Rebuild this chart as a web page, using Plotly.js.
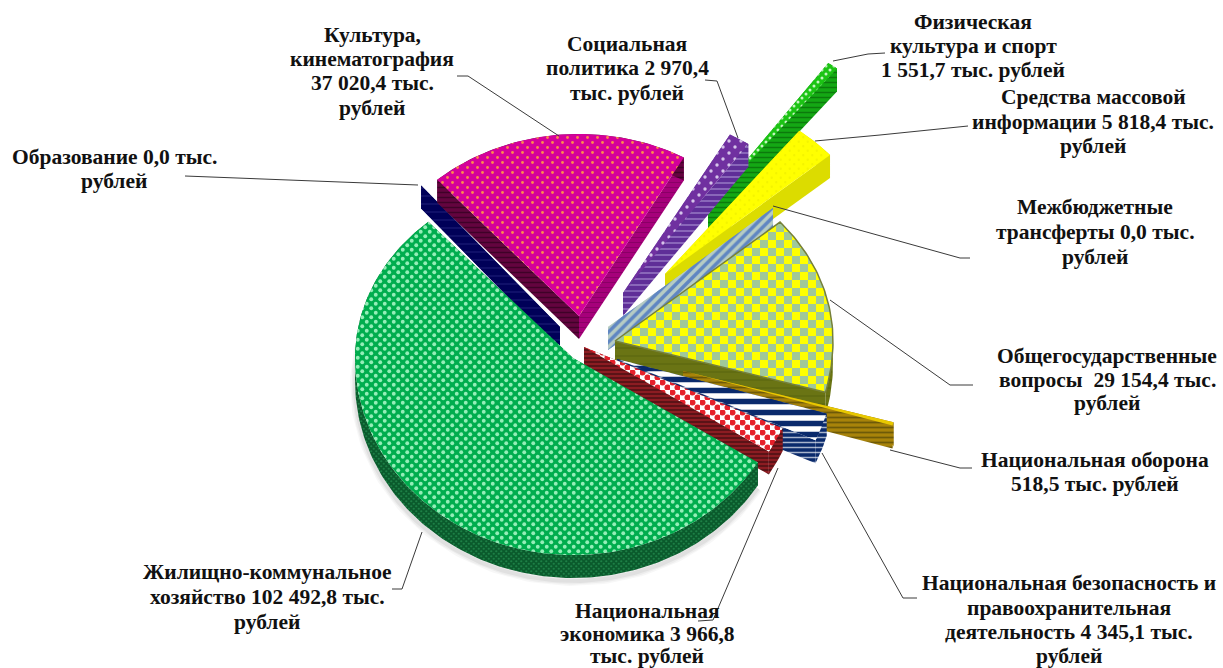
<!DOCTYPE html>
<html><head><meta charset="utf-8">
<script src="https://cdn.plot.ly/plotly-3.0.1.min.js"></script>
<style>html,body{margin:0;padding:0;background:#fff;overflow:hidden}#chart{width:1223px;height:668px}</style>
</head><body><div id="chart"></div>
<script>
// ---- data, clockwise from the start of the largest slice
var categories = ['Жилищно-коммунальное хозяйство','Образование','Культура, кинематография','Социальная политика','Физическая культура и спорт','Средства массовой информации','Межбюджетные трансферты','Общегосударственные вопросы','Национальная оборона','Национальная безопасность и правоохранительная деятельность','Национальная экономика'];
var values = [102492.8,0,37020.4,2970.4,1551.7,5818.4,0,29154.4,518.5,4345.1,3966.8];
var labelLines = [
 ['Жилищно-коммунальное','хозяйство 102 492,8 тыс.','рублей'],
 ['Образование 0,0 тыс.','рублей'],
 ['Культура,','кинематография','37 020,4 тыс.','рублей'],
 ['Социальная','политика 2 970,4','тыс. рублей'],
 ['Физическая','культура и спорт','1 551,7 тыс. рублей'],
 ['Средства массовой','информации 5 818,4 тыс.','рублей'],
 ['Межбюджетные','трансферты 0,0 тыс.','рублей'],
 ['Общегосударственные','вопросы  29 154,4 тыс.','рублей'],
 ['Национальная оборона','518,5 тыс. рублей'],
 ['Национальная безопасность и','правоохранительная','деятельность 4 345,1 тыс.','рублей'],
 ['Национальная','экономика 3 966,8','тыс. рублей']];
// ---- layout of the exploded 3-D pie (pixel-like axis units)
var startAngle = 122, rx = 218, ryBack = 182, ryFront = 197, depth = 23;
var apexX = [573,560,579,623,708,665,608,615,683,617,584];
var apexY = [358,327,316,293,206,274,327,341,371,359,347];
var scaleX = [1,0.96,0.98,1,0.96,1,1,1,1,1,1];
var scaleY = [1,1.04,1,1,0.96,1,1,1,1,1,1];
var drawOrder = [1,2,4,3,5,6,7,8,9,10,0];
var labelX = [267,114,372,627,973,1093,1095,1107,1095,1069,647];
var labelY = [[572,597,622],[157,181],[35,59,83,108],[44,68,93],[22,46,70],[97,122,146],[207,232,257],[356,380,403],[460,484],[583,608,632,656],[611,634,656]];
var leaderX = [[422,402,392],[185,418],[457,468,559],[705,717,738],[833,868,885],[815,880,968],[773,960,970],[830,950,973],[890,960,972],[822,903,917],[778,713,698]];
var leaderY = [[532,589,589],[176,185],[76,76,136],[80,81,138],[61,54,53],[141,135,126],[206,258,258],[300,385,385],[450,468,468],[453,598,598],[468,620,621]];
// ---- styles
var topStyle = [
 {bg:'#00ad4e',fg:'#94eeb8',shape:'.',size:9,sol:0.28},
 null,
 {bg:'#d4009a',fg:'#ff8a4a',shape:'.',size:10,sol:0.12},
 {bg:'#7030a0',fg:'#d5c4ea',shape:'.',size:12,sol:0.12},
 {bg:'#1cc414',fg:'#c4f5c0',shape:'.',size:8,sol:0.22},
 {bg:'#ffff00',fg:'#f4f400',shape:'.',size:9,sol:0.1},
 null,
 {bg:'#a0c89a',fg:'#ffff00',shape:'+',size:16,sol:0.5,line:'#76803a'},
 {bg:'#e8c800',fg:'#e8c800',shape:'',size:8,sol:0.3},
 {bg:'#ffffff',fg:'#0a2a6c',shape:'-',size:11,sol:0.5},
 {bg:'#ffffff',fg:'#e5202a',shape:'.',size:10,sol:0.55}];
var wallStyle = [
 {bg:'#0a5a2c',fg:'#1d8046',shape:'.',size:5,sol:0.3},
 {bg:'#000058',fg:'#20207a',shape:'-',size:8,sol:0.12},
 {bg:'#64043f',fg:'#3f0228',shape:'-',size:5,sol:0.3},
 {bg:'#5f2e98',fg:'#a68bd0',shape:'-',size:6,sol:0.2},
 {bg:'#14a814',fg:'#0c7a0c',shape:'-',size:5,sol:0.3},
 {bg:'#dcdc00',fg:'#c8c800',shape:'',size:7,sol:0.2},
 {bg:'#b6ccc4',fg:'#5f86c2',shape:'/',size:7,sol:0.5},
 {bg:'#6a7414',fg:'#5f6a10',shape:'-',size:8,sol:0.2},
 {bg:'#a8830a',fg:'#6e5a08',shape:'-',size:5,sol:0.35},
 {bg:'#0a2a6c',fg:'#a8b4cc',shape:'-',size:5,sol:0.3},
 {bg:'#8c1c22',fg:'#4e1014',shape:'-',size:4,sol:0.4}];
var endWallColor = {2:'#a6007a'};

var total = values.reduce(function(a,b){return a+b;},0);
var startA = [], endA = [], acc = startAngle;
values.forEach(function(v){ startA.push(acc); acc += v/total*360; endA.push(acc); });

function pt(i,deg){
  var a = deg*Math.PI/180, c = Math.cos(a);
  return [apexX[i]+scaleX[i]*rx*Math.sin(a), apexY[i]-scaleY[i]*(c>0?ryBack:ryFront)*c];
}
function arc(i,a0,a1){
  var out=[], n=Math.max(1,Math.ceil(Math.abs(a1-a0)));
  for(var k=0;k<=n;k++) out.push(pt(i,a0+(a1-a0)*k/n));
  return out;
}
function pattern(s){ return {shape:s.shape,bgcolor:s.bg,fgcolor:s.fg,fgopacity:1,size:s.size,solidity:s.sol}; }
function poly(points,s,name,lineColor){
  var xs=points.map(function(p){return p[0];}), ys=points.map(function(p){return p[1];});
  xs.push(xs[0]); ys.push(ys[0]);
  return {type:'scatter',mode:'lines',x:xs,y:ys,fill:'toself',fillcolor:s.bg,fillpattern:pattern(s),
    line:{width:lineColor?1.5:0,color:lineColor||s.bg},showlegend:false,name:name,hoverinfo:name?'name':'skip',hoveron:'fills'};
}
function down(points){ return points.map(function(p){return [p[0],p[1]+depth];}); }
function wallBetween(line,s){ return poly(line.concat(down(line).reverse()),s,''); }

var traces=[];
// soft ground shadow beneath the front rim of the largest slice
var rim = down(arc(0,startAngle,300));
[[10,0.03],[7,0.04],[4,0.05]].forEach(function(o){
  traces.push({type:'scatter',mode:'lines',x:rim.map(function(p){return p[0];}),y:rim.map(function(p){return p[1]+3;}),
    line:{width:o[0],color:'rgba(0,0,0,'+o[1]+')'},showlegend:false,hoverinfo:'skip'});
});
drawOrder.forEach(function(i){
  var apex=[apexX[i],apexY[i]], w=wallStyle[i];
  var sp=pt(i,startA[i]), ep=pt(i,endA[i]);
  traces.push(wallBetween([apex,sp],w));
  var ew = endWallColor[i] ? {bg:endWallColor[i],fg:'#8a0066',shape:'-',size:5,sol:0.2} : w;
  traces.push(wallBetween([apex,ep],ew));
  if(endA[i]>startA[i]) traces.push(wallBetween(arc(i,startA[i],endA[i]),w));
  if(topStyle[i] && values[i]>0){
    traces.push(poly([apex].concat(arc(i,startA[i],endA[i])),topStyle[i],categories[i],topStyle[i].line));
  }
});

var shapes = leaderX.map(function(xs,i){
  var d = xs.map(function(x,k){return (k?'L':'M')+x+' '+leaderY[i][k];}).join(' ');
  return {type:'path',path:d,xref:'x',yref:'y',line:{color:'#3a3a3a',width:1}};
});
var annotations = [];
labelLines.forEach(function(lines,i){
  lines.forEach(function(t,k){
    annotations.push({text:t,x:labelX[i],y:labelY[i][k],xref:'x',yref:'y',xanchor:'center',yanchor:'middle',align:'center',showarrow:false,
      font:{family:'"Liberation Serif",serif',size:21.5,color:'#111111',weight:700}});
  });
});
var layout = {width:1223,height:668,margin:{l:0,r:0,t:0,b:0},paper_bgcolor:'#fff',plot_bgcolor:'#fff',showlegend:false,
  xaxis:{range:[0,1223],visible:false,fixedrange:true},yaxis:{range:[668,0],visible:false,fixedrange:true},
  shapes:shapes,annotations:annotations};
Plotly.newPlot('chart',traces,layout,{displayModeBar:false}).then(function(){
  // refine two fill textures Plotly has no preset for: a checkerboard and staggered dots
  var NS='http://www.w3.org/2000/svg';
  document.querySelectorAll('pattern').forEach(function(p){
    var w=parseFloat(p.getAttribute('width'));
    if(w===16){
      p.querySelectorAll('path').forEach(function(r){r.remove();});
      [[0,0],[8,8]].forEach(function(o){
        var r=document.createElementNS(NS,'rect');
        r.setAttribute('x',o[0]);r.setAttribute('y',o[1]);r.setAttribute('width',8);r.setAttribute('height',8);r.setAttribute('fill','#ffff00');
        p.appendChild(r);
      });
    }
    var c=p.querySelector('circle');
    if(c){
      var c2=c.cloneNode(true);
      c.setAttribute('cx',w/4);c.setAttribute('cy',w/4);
      c2.setAttribute('cx',3*w/4);c2.setAttribute('cy',3*w/4);
      var rad=parseFloat(c.getAttribute('r')); c.setAttribute('r',rad*0.72); c2.setAttribute('r',rad*0.72);
      p.appendChild(c2);
    }
  });
});
</script></body></html>
